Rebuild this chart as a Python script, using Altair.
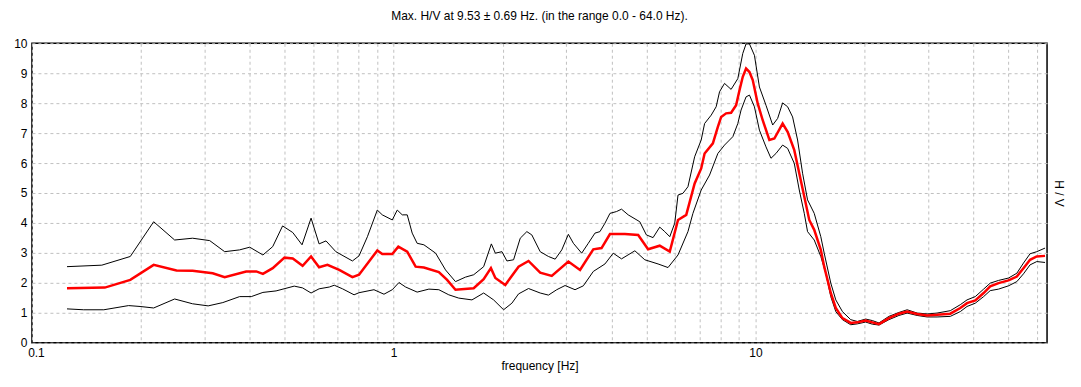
import altair as alt
import pandas as pd

# ---- data ----
freq_mean = [0.125,0.159,0.187,0.217,0.251,0.278,0.316,0.341,0.391,0.417,
             0.435,0.463,0.499,0.526,0.560,0.591,0.622,0.656,0.707,0.769,
             0.802,0.901,0.930,0.991,1.030,1.090,1.150,1.212,1.333,1.405,
             1.482,1.664,1.773,1.857,1.910,2.035,2.214,2.359,2.541,2.735,
             3.040,3.275,3.563,3.755,3.962,4.356,4.741,5.050,5.438,5.797,
             6.109,6.438,6.792,7.081,7.236,7.628,7.873,8.040,8.299,8.566,
             8.843,9.035,9.226,9.421,9.627,9.831,10.146,10.474,10.929,11.281,
             11.890,12.274,12.806,13.219,13.646,14.087,14.539,15.161,15.493,16.156,
             16.678,17.399,18.341,19.132,20.168,21.040,21.955,23.390,24.924,26.273,
             28.0,29.84,31.78,34.57,36.85,38.45,40.53,42.74,44.57,47.0,
             50.08,52.80,55.08,57.44,59.94,63.18]
hv_mean = [1.82,1.84,2.1,2.6,2.41,2.4,2.32,2.19,2.38,2.38,
           2.3,2.49,2.84,2.81,2.57,2.88,2.52,2.6,2.43,2.19,
           2.27,3.08,2.96,2.96,3.21,3.04,2.54,2.51,2.36,2.1,
           1.77,1.82,2.12,2.49,2.16,1.93,2.54,2.73,2.34,2.23,
           2.71,2.43,3.12,3.16,3.63,3.63,3.6,3.12,3.24,3.04,
           4.1,4.27,5.32,5.82,6.32,6.66,7.21,7.54,7.66,7.68,
           7.93,8.43,8.88,9.16,9.04,8.77,7.99,7.43,6.77,6.82,
           7.32,7.04,6.43,5.66,4.88,4.1,3.77,3.1,2.54,1.66,
           1.16,0.82,0.66,0.68,0.74,0.68,0.62,0.82,0.97,1.04,
           0.96,0.91,0.93,0.97,1.16,1.32,1.41,1.66,1.88,1.99,
           2.08,2.21,2.49,2.77,2.88,2.9]

freq_upper = [0.125,0.156,0.187,0.217,0.248,0.278,0.310,0.341,0.375,0.400,
              0.435,0.463,0.493,0.526,0.558,0.591,0.622,0.650,0.692,0.769,
              0.802,0.846,0.901,0.930,0.991,1.023,1.056,1.090,1.125,1.161,
              1.212,1.306,1.391,1.482,1.579,1.664,1.773,1.862,1.910,1.992,
              2.056,2.145,2.238,2.334,2.409,2.541,2.678,2.795,2.915,3.040,
              3.139,3.309,3.451,3.601,3.717,3.837,3.962,4.130,4.264,4.449,
              4.790,4.995,5.212,5.438,5.615,5.797,5.983,6.109,6.305,6.508,
              6.792,7.081,7.236,7.546,7.789,7.958,8.214,8.566,8.940,9.226,
              9.421,9.627,9.936,10.257,10.696,11.161,11.519,11.890,12.274,12.670,
              13.078,13.500,13.935,14.539,15.161,15.493,16.156,16.678,17.399,18.341,
              19.132,20.168,21.040,21.955,23.390,24.924,26.273,28.0,29.84,31.78,
              34.57,36.85,38.45,40.53,42.74,44.57,47.0,50.08,52.80,55.08,
              57.44,59.94,63.18]
hv_upper = [2.54,2.59,2.88,4.04,3.43,3.49,3.41,3.04,3.1,3.19,
            2.93,3.21,3.9,3.68,3.27,4.16,3.3,3.4,3.04,2.73,
            2.9,3.54,4.43,4.27,4.1,4.43,4.27,4.27,3.66,3.32,
            3.27,2.99,2.43,2.04,2.19,2.27,2.54,3.3,2.99,3.04,
            2.73,2.77,3.49,3.71,3.6,3.04,2.88,2.79,3.1,3.62,
            3.32,2.99,3.32,3.66,3.71,3.99,4.32,4.38,4.46,4.27,
            4.04,3.6,3.51,3.86,3.71,3.54,3.99,4.93,4.99,5.21,
            6.21,6.77,7.32,7.6,7.88,8.38,8.66,8.46,8.82,9.66,
            9.98,9.98,9.6,8.54,7.93,7.27,7.49,8.01,7.88,7.54,
            6.77,5.66,4.77,4.32,3.54,2.99,1.99,1.43,1.04,0.77,
            0.71,0.79,0.74,0.66,0.88,1.01,1.1,0.99,0.96,0.99,
            1.07,1.27,1.43,1.54,1.79,1.99,2.08,2.16,2.32,2.66,
            2.97,3.04,3.16]

freq_lower = [0.125,0.139,0.158,0.185,0.199,0.217,0.248,0.278,0.307,0.337,
              0.375,0.404,0.435,0.473,0.531,0.560,0.591,0.622,0.664,0.685,
              0.722,0.777,0.802,0.882,0.940,0.991,1.034,1.079,1.161,1.251,
              1.333,1.420,1.513,1.646,1.773,1.889,2.013,2.122,2.214,2.359,
              2.541,2.678,2.823,2.977,3.172,3.344,3.563,3.837,4.045,4.264,
              4.642,4.945,5.381,5.733,6.109,6.508,6.718,7.081,7.469,7.873,
              8.214,8.660,8.940,9.127,9.421,9.627,9.936,10.257,10.696,11.041,
              11.396,11.890,12.274,12.806,13.219,13.646,13.935,14.539,15.161,15.65,
              16.156,16.678,17.399,18.341,19.132,20.168,21.040,21.955,23.390,24.924,
              26.273,28.0,29.84,31.78,34.57,36.85,38.45,40.53,42.74,44.57,
              47.0,50.08,52.80,55.08,57.44,59.94,63.18]
hv_lower = [1.13,1.1,1.1,1.24,1.21,1.16,1.46,1.3,1.23,1.34,
            1.54,1.54,1.68,1.73,1.89,1.83,1.66,1.8,1.86,1.92,
            1.8,1.6,1.67,1.77,1.62,1.77,2.01,1.86,1.69,1.79,
            1.77,1.6,1.49,1.43,1.66,1.43,1.1,1.32,1.63,1.81,
            1.66,1.59,1.77,1.91,1.77,1.9,2.38,2.63,2.99,2.8,
            3.07,2.77,2.63,2.51,2.93,3.71,4.32,5.1,5.6,6.32,
            6.6,6.88,7.32,7.77,8.21,8.27,7.88,7.1,6.54,6.16,
            6.32,6.6,6.49,5.99,5.1,4.32,3.71,3.43,2.88,2.32,
            1.54,1.04,0.77,0.6,0.63,0.69,0.62,0.59,0.77,0.91,
            0.99,0.91,0.86,0.86,0.88,1.04,1.21,1.32,1.54,1.74,
            1.79,1.9,2.04,2.3,2.6,2.71,2.68]

grid_ticks = [0.1,0.2,0.3,0.4,0.5,0.6,0.7,0.8,0.9,
              1,2,3,4,5,6,7,8,9,
              10,20,30,40,50,60]
y_ticks = [0,1,2,3,4,5,6,7,8,9,10]

title_text = "Max. H/V at 9.53 \u00b1 0.69 Hz. (in the range 0.0 - 64.0 Hz)."
FONT = "Liberation Sans"

df_std = pd.concat([
    pd.DataFrame({"f": freq_upper, "hv": hv_upper, "s": "upper"}),
    pd.DataFrame({"f": freq_lower, "hv": hv_lower, "s": "lower"}),
])
df_mean = pd.DataFrame({"f": freq_mean, "hv": hv_mean, "s": "mean"})

x_scale = alt.Scale(type="log", domain=[0.1, 64], nice=False)
y_scale = alt.Scale(domain=[0, 10], nice=False)

x_axis = alt.Axis(
    values=grid_ticks,
    labelExpr="datum.value == 0.1 ? '0.1' : (datum.value == 1 ? '1' : (datum.value == 10 ? '10' : ''))",
    title="frequency [Hz]",
    ticks=False, domain=False, labelOverlap=False, labelFlush=False,
    labelOffset={"condition": {"test": "datum.value == 0.1", "value": 4}, "value": 0},
    labelPadding=5, titlePadding=2,
    grid=True, gridColor="#c0c0c0", gridDash=[3, 3], gridWidth=1,
)

black = alt.Chart(df_std).mark_line(color="#000000", strokeWidth=1).encode(
    x=alt.X("f:Q", scale=x_scale, axis=x_axis),
    y=alt.Y("hv:Q", scale=y_scale, axis=alt.Axis(
        values=y_ticks, title=None, ticks=False, domain=False,
        labelPadding=5, labelOverlap=False, labelFlush=False,
        grid=True, gridColor="#c0c0c0", gridDash=[3, 3], gridWidth=1)),
    detail="s:N",
)

red = alt.Chart(df_mean).mark_line(color="#ff0000", strokeWidth=2.5).encode(
    x=alt.X("f:Q", scale=x_scale, axis=x_axis),
    y=alt.Y("hv:Q", scale=y_scale, axis=alt.Axis(
        orient="right", title="H / V", labels=False, ticks=False,
        domain=False, grid=False, titlePadding=4, titleAngle=90)),
)

chart = alt.layer(black, red).resolve_axis(y="independent").properties(
    width=1017, height=300,
    autosize=alt.AutoSizeParams(type="none"),
    padding={"left": 24, "top": 35, "right": 26, "bottom": 30},
    title=alt.TitleParams(title_text, fontSize=12, font=FONT,
                          fontWeight="normal", color="#000000",
                          anchor="middle", offset=14),
).configure_view(
    stroke="#000000", strokeWidth=1.5
).configure_axis(
    labelFont=FONT, labelFontSize=12, labelColor="#000000",
    titleFont=FONT, titleFontSize=12, titleColor="#000000",
    titleFontWeight="normal",
)

chart.save("out.html", embed_options={"renderer": "svg", "actions": False})
